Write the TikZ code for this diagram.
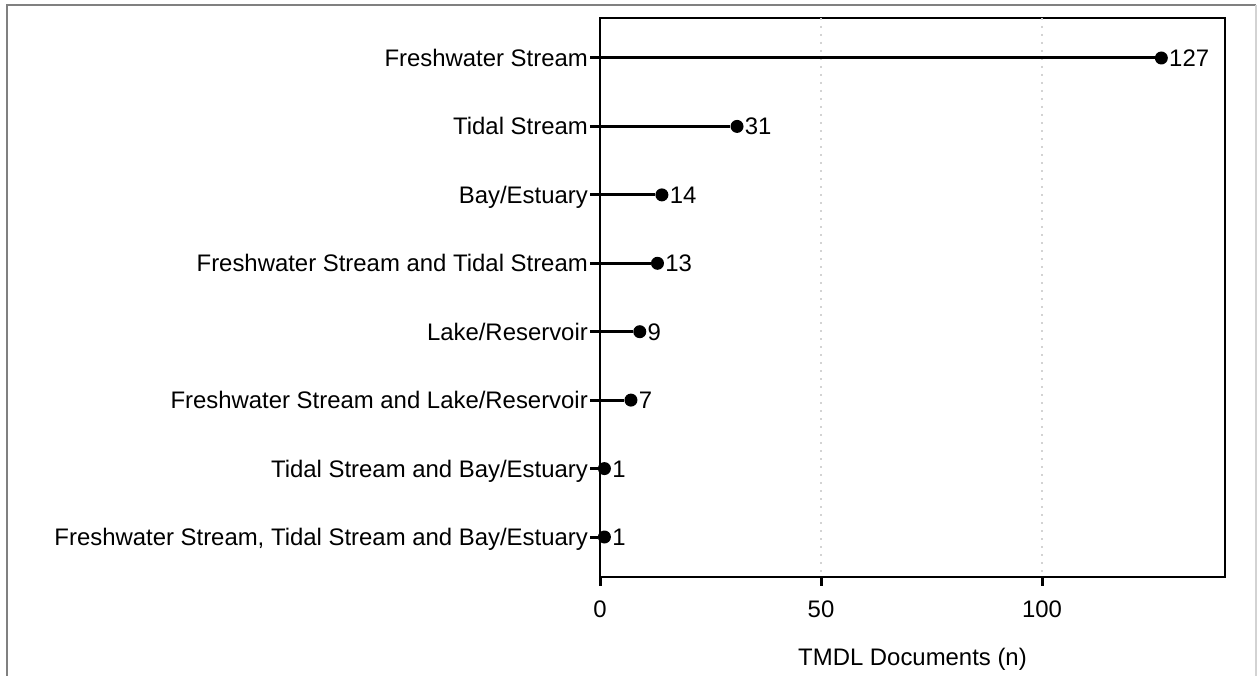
\documentclass[tikz,border=0pt]{standalone}
\usepackage{fontspec}
\setmainfont{Liberation Sans}
\usetikzlibrary{positioning}

\definecolor{framegray}{HTML}{808080}
\definecolor{gridgray}{HTML}{D3D3D3}

\tikzset{
    cat/.style={anchor=east, inner sep=2bp, text height=17bp, text depth=0bp, font=\fontsize{24}{27}\selectfont},
    val/.style={inner sep=1bp, text height=17bp, text depth=0bp, font=\fontsize{24}{27}\selectfont},
    dot/.style={circle, fill=black, minimum size=13bp, inner sep=0pt},
    stem/.style={line width=3bp},
    axis/.style={line width=2bp},
    xtick/.style={line width=3bp},
    grid/.style={gridgray, line width=2bp, dash pattern=on 2bp off 6bp},
}

\begin{document}
\begin{tikzpicture}[x=1bp, y=-1bp]
    \useasboundingbox (0,0) rectangle (1257,676);
    \def\xs{4.42}

    % outer frame
    \draw[framegray, line width=2.5bp] (7,700) -- (7,5) -- (1256,5);
    \draw[gridgray, line width=1.5bp] (1256,5) -- (1256,700);

    % panel
    \coordinate (o) at (600,577);
    \coordinate (tl) at (600,18);
    \coordinate (br) at (1225,577);
    \draw[line width=1.2bp] (tl) rectangle (br);
    \coordinate (g50t) at ({600+50*\xs},18);
    \coordinate (g50b) at ({600+50*\xs},577);
    \coordinate (g100t) at ({600+100*\xs},18);
    \coordinate (g100b) at ({600+100*\xs},577);
    \draw[grid] (g50t) -- (g50b);
    \draw[grid] (g100t) -- (g100b);
    \draw[axis] (tl) -- (o) -- (br);

    % rows
    \node[cat] (lFS) at (590,58) {Freshwater Stream};
    \node[dot] (dFS) at ({600+127*\xs},58) {};
    \node[val, right=0pt of dFS] (vFS) {127};
    \draw[stem] (lFS.east) -- (dFS);

    \node[cat] (lTS) at (590,126.4) {Tidal Stream};
    \node[dot] (dTS) at ({600+31*\xs},126.4) {};
    \node[val, right=0pt of dTS] (vTS) {31};
    \draw[stem] (lTS.east) -- (dTS);

    \node[cat] (lBE) at (590,194.9) {Bay/Estuary};
    \node[dot] (dBE) at ({600+14*\xs},194.9) {};
    \node[val, right=0pt of dBE] (vBE) {14};
    \draw[stem] (lBE.east) -- (dBE);

    \node[cat] (lFSTS) at (590,263.3) {Freshwater Stream and Tidal Stream};
    \node[dot] (dFSTS) at ({600+13*\xs},263.3) {};
    \node[val, right=0pt of dFSTS] (vFSTS) {13};
    \draw[stem] (lFSTS.east) -- (dFSTS);

    \node[cat] (lLR) at (590,331.7) {Lake/Reservoir};
    \node[dot] (dLR) at ({600+9*\xs},331.7) {};
    \node[val, right=0pt of dLR] (vLR) {9};
    \draw[stem] (lLR.east) -- (dLR);

    \node[cat] (lFSLR) at (590,400.1) {Freshwater Stream and Lake/Reservoir};
    \node[dot] (dFSLR) at ({600+7*\xs},400.1) {};
    \node[val, right=0pt of dFSLR] (vFSLR) {7};
    \draw[stem] (lFSLR.east) -- (dFSLR);

    \node[cat] (lTSBE) at (590,468.6) {Tidal Stream and Bay/Estuary};
    \node[dot] (dTSBE) at ({600+1*\xs},468.6) {};
    \node[val, right=0pt of dTSBE] (vTSBE) {1};
    \draw[stem] (lTSBE.east) -- (dTSBE);

    \node[cat] (lAll) at (590,537) {Freshwater Stream, Tidal Stream and Bay/Estuary};
    \node[dot] (dAll) at ({600+1*\xs},537) {};
    \node[val, right=0pt of dAll] (vAll) {1};
    \draw[stem] (lAll.east) -- (dAll);

    % x axis
    \draw[xtick] (o) -- ++(0,9) coordinate (t0);
    \draw[xtick] (g50b) -- ++(0,9) coordinate (t50);
    \draw[xtick] (g100b) -- ++(0,9) coordinate (t100);
    \node[val, below=13bp of t0] (n0) {0};
    \node[val, below=13bp of t50] (n50) {50};
    \node[val, below=13bp of t100] (n100) {100};
    \node[val] (xlab) at (912.5,657) {TMDL Documents (n)};
\end{tikzpicture}
\end{document}
